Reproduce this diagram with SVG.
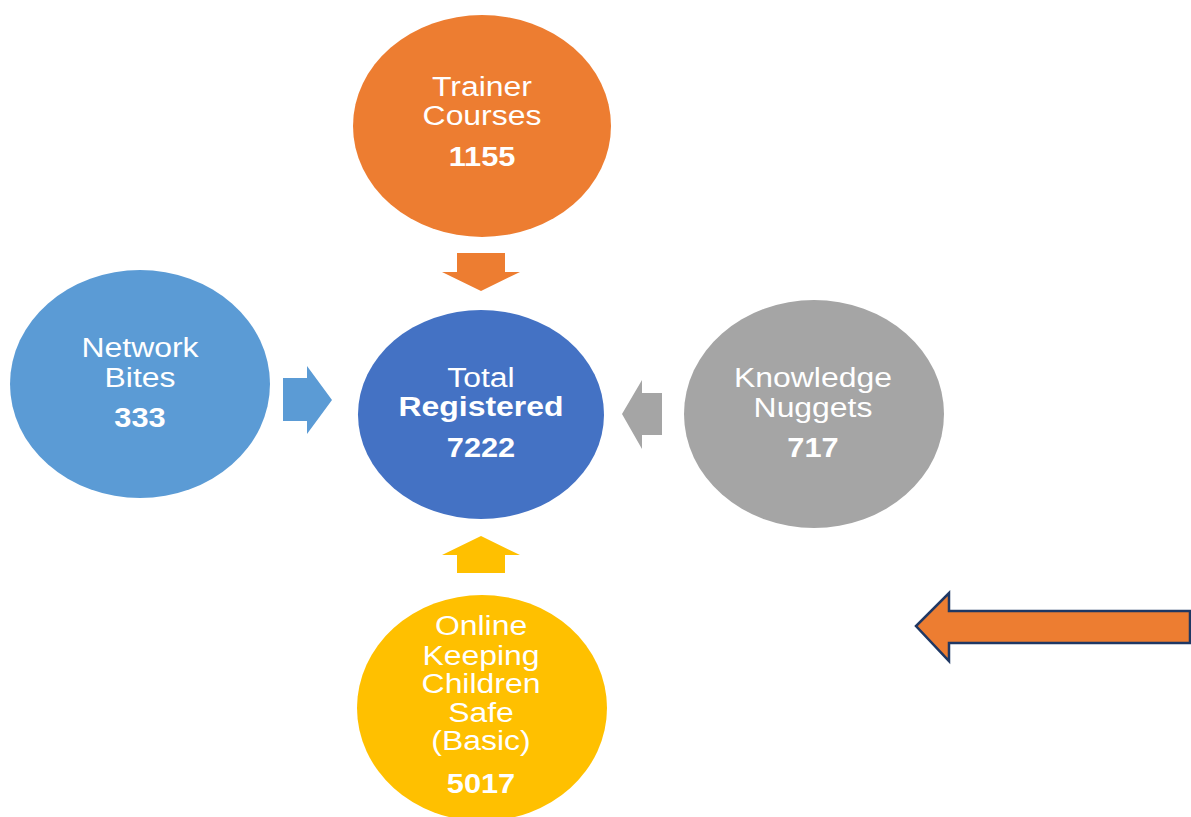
<svg xmlns="http://www.w3.org/2000/svg" width="1191" height="817" viewBox="0 0 1191 817">
<style>
text{font-family:"Liberation Sans",Arial,sans-serif;fill:#ffffff;text-anchor:middle}
.r{font-size:28px}
.b{font-size:27px;font-weight:bold}
.bt{font-size:28px;font-weight:bold}
</style>
<rect width="1191" height="817" fill="#ffffff"/>
<g id="connectors">
<polygon points="457,253 505,253 505,272 520,272 481,291 442,272 457,272" fill="#ED7D31"/>
<polygon points="457,573 505,573 505,555 520,555 481,536 442,555 457,555" fill="#FFC000"/>
<polygon points="283,378 307,378 307,366 332,400 307,434 307,421 283,421" fill="#5B9BD5"/>
<polygon points="662,393 642,393 642,380 622,414 642,449 642,435 662,435" fill="#A5A5A5"/>
</g>
<g id="trainer">
<ellipse cx="482" cy="126" rx="129" ry="111" fill="#ED7D31"/>
<g transform="translate(482,0) scale(1.14,1)">
<text class="r" x="0" y="96">Trainer</text>
<text class="r" x="0" y="125">Courses</text>
<text class="b" x="0" y="166">1155</text>
</g>
</g>
<g id="network">
<ellipse cx="140" cy="384" rx="130" ry="114" fill="#5B9BD5"/>
<g transform="translate(140,0) scale(1.14,1)">
<text class="r" x="0" y="357">Network</text>
<text class="r" x="0" y="387">Bites</text>
<text class="b" x="0" y="427">333</text>
</g>
</g>
<g id="total">
<ellipse cx="481" cy="414.5" rx="123" ry="104.5" fill="#4472C4"/>
<g transform="translate(481,0) scale(1.14,1)">
<text class="r" x="0" y="387">Total</text>
<text class="bt" x="0" y="416">Registered</text>
<text class="b" x="0" y="457">7222</text>
</g>
</g>
<g id="knowledge">
<ellipse cx="814" cy="414" rx="130" ry="114" fill="#A5A5A5"/>
<g transform="translate(813,0) scale(1.14,1)">
<text class="r" x="0" y="387">Knowledge</text>
<text class="r" x="0" y="417">Nuggets</text>
<text class="b" x="0" y="457">717</text>
</g>
</g>
<g id="online">
<ellipse cx="482" cy="708" rx="125" ry="113" fill="#FFC000"/>
<g transform="translate(481,0) scale(1.14,1)">
<text class="r" x="0" y="635">Online</text>
<text class="r" x="0" y="665">Keeping</text>
<text class="r" x="0" y="693">Children</text>
<text class="r" x="0" y="722">Safe</text>
<text class="r" x="0" y="750">(Basic)</text>
<text class="b" x="0" y="793">5017</text>
</g>
</g>
<g id="pointer">
<polygon points="1190,611 949,611 949,593 916,626 949,661 949,643 1190,643" fill="#ED7D31" stroke="#1F3864" stroke-width="2.5" stroke-linejoin="miter"/>
</g>
</svg>
